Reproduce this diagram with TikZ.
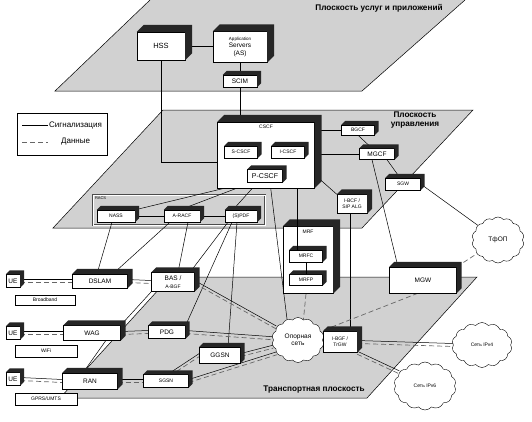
\documentclass[tikz,border=0pt]{standalone}
\usepackage{fontspec}
\setmainfont{Liberation Sans}
\usetikzlibrary{shapes.symbols}
\pgfdeclarelayer{planes}
\pgfdeclarelayer{bg}
\pgfdeclarelayer{fg}
\pgfsetlayers{planes,bg,main,fg}
\colorlet{seryj}{black!18}
\colorlet{grani}{black!85}
\newcommand{\nadp}{\fontsize{6.5}{7.5}\selectfont}
\newcommand{\melk}{\fontsize{5}{5.8}\selectfont}
\newcommand{\zag}{\fontsize{8.2}{9}\selectfont\bfseries}
\newcommand{\kub}[2][4pt]{% dark top and side of a box
\fill[grani] (#2.north west) -- ++(#1,#1) -- ([shift={(#1,#1)}]#2.north east)
  -- ([shift={(#1,#1)}]#2.south east) -- (#2.south east) -- (#2.north east) -- cycle;}
\newcommand{\dvelinii}[2]{% signalling + data
\draw[signal] ([yshift=1.5pt]#1) -- ([yshift=1.5pt]#2);
\draw[dannye] ([yshift=-1.5pt]#1) -- ([yshift=-1.5pt]#2);}
\tikzstyle{blok} = [draw, fill=white, inner sep=1pt, font=\nadp, align=center]
\tikzstyle{podpis} = [draw, fill=white, inner sep=1pt, font=\nadp]
\tikzstyle{oblako} = [cloud, draw, fill=white, cloud puffs=14, cloud puff arc=100,
    inner sep=0pt, font=\nadp, align=center]
\tikzstyle{signal} = [black, line width=0.5pt]
\tikzstyle{dannye} = [black!60, line width=0.7pt, dash pattern=on 5pt off 3pt]
\tikzstyle{plos} = [fill=seryj, draw=black, line width=0.5pt]
\tikzset{wh/.style 2 args={minimum width=#1pt, minimum height=#2pt}}

\begin{document}
\begin{tikzpicture}[x=1pt, y=-1pt]
\useasboundingbox (0,0) rectangle (532,421);

% three planes
\begin{pgfonlayer}{planes}
\fill[seryj] (150,0) -- (55,91) -- (362,91) -- (465,0) -- cycle;
\draw[signal] (150,0) -- (55,91) -- (362,91) -- (465,0);
\draw[plos] (163,110) -- (473,110) -- (362,228) -- (53,228) -- cycle;
\draw[plos] (170,277) -- (477,277) -- (367,398) -- (60,398) -- cycle;
\node[draw=black!70, double, double distance=0.8pt, wh={172}{30}] (racs) at (179,210) {};
\node[font=\fontsize{4}{5}\selectfont, anchor=north west, inner sep=2pt] (racslbl) at (racs.north west) {RACS};
\end{pgfonlayer}

\node[font=\zag] (t1) at (379,8) {Плоскость услуг и приложений};
\node[font=\zag, align=center] (t2) at (415,120) {Плоскость\\управления};
\node[font=\zag] (t3) at (314,390) {Транспортная плоскость};

% legend
\node[draw, fill=white, wh={90}{42}] (leg) at (62,134) {};
\coordinate (ls1) at (22,125); \coordinate (ls2) at (48,125);
\coordinate (ld1) at (22,142); \coordinate (ld2) at (48,142);
\draw[signal] (ls1) -- (ls2);
\draw[dannye] (ld1) -- (ld2);
\node[font=\fontsize{8}{9}\selectfont, anchor=west, inner sep=1pt] (lsig) at (ls2) {Сигнализация};
\node[font=\fontsize{8}{9}\selectfont, anchor=west, inner sep=1pt] (ldan) at (60,142) {Данные};

% services
\node[blok, wh={48}{28}, font=\fontsize{7.5}{8}\selectfont] (hss) at (161,46) {HSS};
\node[blok, wh={54}{31}] (as) at (240,47) {{\fontsize{4.5}{5}\selectfont Application}\\Servers\\(AS)};
\node[blok, wh={34}{12}] (scim) at (240,81) {SCIM};

% control
\node[blok, wh={97}{66}, label={[font=\melk, anchor=north, inner sep=3pt]north:CSCF}] (cscf) at (266,155) {};
\node[blok, wh={33}{12}, font=\melk] (scscf) at (241,152) {S-CSCF};
\node[blok, wh={33}{12}, font=\melk] (icscf) at (288,152) {I-CSCF};
\node[blok, wh={35}{13}, font=\fontsize{7}{8}\selectfont] (pcscf) at (265,176) {P-CSCF};
\node[blok, wh={33}{10}, font=\melk] (bgcf) at (358,130) {BGCF};
\node[blok, wh={35}{11}] (mgcf) at (377,154) {MGCF};
\node[blok, wh={35}{12}, font=\melk] (sgw) at (403,184) {SGW};
\node[blok, wh={30}{19}, font=\melk] (ibcf) at (352,204) {I-BCF /\\SIP ALG};
\node[blok, wh={38}{12}, font=\melk] (nass) at (116,216) {NASS};
\node[blok, wh={36}{12}, font=\melk] (aracf) at (182,216) {A-RACF};
\node[blok, wh={32}{12}, font=\melk] (spdf) at (241,216) {(S)PDF};
\node[blok, wh={50}{67}, label={[font=\melk, anchor=north, inner sep=4pt]north:MRF}] (mrf) at (308,260) {};
\node[blok, wh={33}{12}, font=\melk] (mrfc) at (306,256) {MRFC};
\node[blok, wh={33}{11}, font=\melk] (mrfp) at (306,280) {MRFP};

% transport
\node[blok, wh={14}{13}] (ue1) at (13,281) {UE};
\node[blok, wh={55}{14}] (dslam) at (100,281) {DSLAM};
\node[podpis, wh={60}{10}, font=\melk] (bb) at (45,300) {Broadband};
\node[blok, wh={43}{19}] (bas) at (173,282) {BAS /\\{\melk A-BGF}};
\node[blok, wh={14}{13}] (ue2) at (13,333) {UE};
\node[blok, wh={57}{15}] (wag) at (92,333) {WAG};
\node[podpis, wh={62}{12}, font=\melk] (wifi) at (46,351) {WiFi};
\node[blok, wh={37}{13}] (pdg) at (167,332) {PDG};
\node[blok, wh={14}{13}] (ue3) at (13,379) {UE};
\node[blok, wh={55}{16}] (ran) at (90,381) {RAN};
\node[podpis, wh={62}{12}, font=\melk] (gprs) at (46,399) {GPRS/UMTS};
\node[blok, wh={45}{13}, font=\melk] (sgsn) at (166,381) {SGSN};
\node[blok, wh={41}{16}] (ggsn) at (220,355) {GGSN};
\node[oblako, wh={52}{45}] (opor) at (298,340) {Опорная\\сеть};
\node[blok, wh={34}{21}, font=\melk] (ibgf) at (340,342) {I-BGF /\\TrGW};
\node[blok, wh={67}{26}] (mgw) at (423,280) {MGW};
\node[oblako, wh={52}{46}] (tfop) at (498,240) {ТфОП};
\node[oblako, wh={60}{45}, font=\melk] (ipv4) at (482,345) {Сеть IPv4};
\node[oblako, wh={62}{48}, font=\melk] (ipv6) at (425,386) {Сеть IPv6};

% box sides
\foreach \n in {hss,as,cscf,mrf} {\kub[7pt]{\n}}
\foreach \n in {ibcf,dslam,bas,wag,ran,ibgf,mgw} {\kub[5pt]{\n}}
\foreach \n in {scim,scscf,icscf,pcscf,bgcf,mgcf,sgw,nass,aracf,spdf,mrfc,mrfp,
  ue1,ue2,ue3,pdg,sgsn,ggsn} {\kub{\n}}

\begin{pgfonlayer}{bg}
\draw[signal] (hss.east) -- (hss.east -| as.west);
\draw[signal] (as.south) -- (scim.north);
\draw[signal] (scim.south) -- (scim.south |- scscf.north);
\draw[signal] (hss.south) |- ([yshift=-7pt]cscf.west);
\draw[signal] (scscf.east) -- (icscf.west);
\draw[signal] ([xshift=-4pt]icscf.south) -- ([xshift=-6pt]pcscf.north east);
\draw[signal] (bgcf.west -| cscf.east) -- (bgcf.west);
\draw[signal] (mgcf.west -| cscf.east) -- (mgcf.west);
\draw[signal] (bgcf.south) -- ([xshift=-5pt]mgcf.north);
\draw[signal] ([xshift=10pt]mgcf.south) -- ([xshift=-3pt]sgw.north);
\draw[signal] (sgw.east) -- (tfop.144);
\draw[signal] ([xshift=-5pt]mgcf.south) -- ([xshift=-25pt]mgw.north);
\draw[signal] ([xshift=8pt]icscf.south) -- (ibcf.north west);
\draw[signal] ([xshift=-2pt]ibcf.south) -- ([xshift=-2pt]ibcf.south |- ibgf.north);
\draw[signal] (pcscf.south west) -- (nass.north east);
\draw[signal] ([xshift=4pt]pcscf.south west) -- ([xshift=-2pt]aracf.north);
\draw[signal] ([xshift=10pt]pcscf.south west) -- ([xshift=-8pt]spdf.north);
\draw[signal] ([xshift=5pt]pcscf.south) -- (opor.118);
\draw[signal] (nass.east) -- (aracf.west);
\draw[signal] (aracf.east) -- (spdf.west);
\draw[signal] ([xshift=-4pt]nass.south) -- ([xshift=-3pt]dslam.north);
\draw[signal] ([xshift=-12pt]aracf.south) -- ([xshift=13pt]dslam.north);
\draw[signal] ([xshift=6pt]aracf.south) -- ([xshift=5pt]bas.north);
\draw[signal] ([xshift=-13pt]spdf.south) -- ([xshift=17pt]bas.north);
\draw[signal] ([xshift=-9pt]spdf.south) -- (pdg.north east);
\draw[signal] ([xshift=-4pt]spdf.south) -- ([xshift=8pt]ggsn.north);
\draw[signal] (bas.south west) -- (wag.north east);
\draw[signal] ([xshift=-15pt]wag.south east) -- ([xshift=-7pt]ran.north);
\draw[dannye] ([xshift=-2pt]mrf.south) -- (opor.75);
\draw[dannye] (mgw.north east) -- (tfop.213);
\draw[dannye] ([xshift=-5pt]mgw.south) -- (opor.21);
\coordinate (sgsnv) at ([xshift=4pt]sgsn.north);
\dvelinii{ue1.east}{dslam.west}
\dvelinii{dslam.east}{bas.west}
\dvelinii{ue2.east}{wag.west}
\dvelinii{wag.east}{pdg.west}
\dvelinii{ue3.east}{ran.west}
\dvelinii{ran.east}{sgsn.west}
\dvelinii{sgsnv}{ggsn.west}
\dvelinii{bas.east}{opor.150}
\dvelinii{pdg.east}{opor.176}
\dvelinii{ggsn.east}{opor.195}
\dvelinii{sgsn.east}{opor.212}
\dvelinii{ibgf.east}{ipv4.west}
\dvelinii{ibgf.south east}{ipv6.152}
\end{pgfonlayer}

\begin{pgfonlayer}{fg}
\draw[signal] ([xshift=-9pt]mrfc.north) -- ([xshift=-9pt]mrfc.north |- cscf.south);
\draw[signal] (mrfc.south) -- (mrfp.north);
\end{pgfonlayer}
\end{tikzpicture}
\end{document}
